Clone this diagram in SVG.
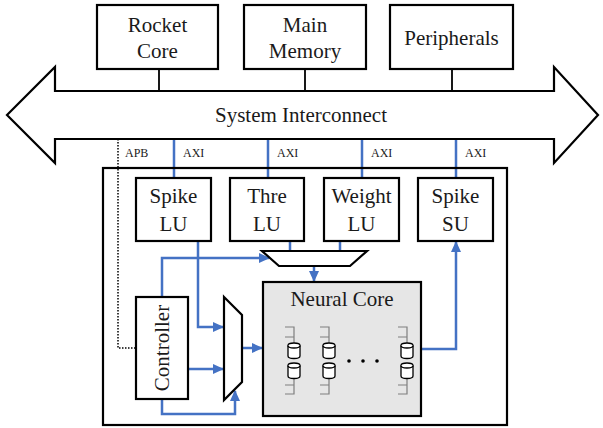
<svg xmlns="http://www.w3.org/2000/svg" width="603" height="428" viewBox="0 0 603 428">
<style>
.box{fill:#fff;stroke:#000;stroke-width:2.2}
.t{font-family:"Liberation Serif","Times New Roman",serif;font-size:21px;fill:#1a1a1a;text-anchor:middle}
.s{font-family:"Liberation Serif","Times New Roman",serif;font-size:12px;fill:#1a1a1a}
.blk{fill:none;stroke:#000;stroke-width:1.8}
.blue{fill:none;stroke:#4472c4;stroke-width:2.5}
.gray{fill:none;stroke:#7f7f7f;stroke-width:1.2}
.cyl{fill:#fff;stroke:#000;stroke-width:1.3}
</style>
<defs>
<marker id="ah" markerUnits="userSpaceOnUse" markerWidth="12" markerHeight="10" refX="10" refY="5" orient="auto">
<path d="M0,0 L11,5 L0,10 Z" fill="#4472c4"/>
</marker>
<g id="neuron">
<path class="gray" d="M-9,327 H0 V343 M-9,337 H0 M0,378 V394 H-9 M-9,385 H0"/>
<path class="cyl" d="M-6,345.5 V356 A6,2.5 0 0 0 6,356 V345.5 A6,2.5 0 0 0 -6,345.5 Z"/>
<path class="cyl" d="M-6,345.5 A6,2.5 0 0 0 6,345.5"/>
<path class="cyl" d="M-6,365.5 V376 A6,2.5 0 0 0 6,376 V365.5 A6,2.5 0 0 0 -6,365.5 Z"/>
<path class="cyl" d="M-6,365.5 A6,2.5 0 0 0 6,365.5"/>
</g>
</defs>

<g id="connectors">
<path class="blk" d="M159,69 V91 M305,69 V91 M452,69 V91"/>
<path d="M118,139 V348 H136" fill="none" stroke="#000" stroke-width="1.5" stroke-dasharray="1.5,1.5"/>
<path class="blue" d="M174,139 V178 M268,139 V178 M362,139 V178 M456,139 V178"/>
<path class="blue" d="M290,241 V251 M340,241 V251"/>
<path class="blue" d="M198,241 V327 H223" marker-end="url(#ah)"/>
<path class="blue" d="M162,297 V258 H269" marker-end="url(#ah)"/>
<path class="blue" d="M188,369 H223" marker-end="url(#ah)"/>
<path class="blue" d="M162,399 V414 H235 V391" marker-end="url(#ah)"/>
<path class="blue" d="M314,266 V281" marker-end="url(#ah)"/>
<path class="blue" d="M242,348 H262" marker-end="url(#ah)"/>
<path class="blue" d="M421,349 H456 V242" marker-end="url(#ah)"/>
</g>

<g id="rocket-core">
<rect class="box" x="97" y="5" width="121" height="64"/>
<text class="t" x="157.5" y="32">Rocket</text>
<text class="t" x="157.5" y="58">Core</text>
</g>
<g id="main-memory">
<rect class="box" x="244" y="5" width="122" height="64"/>
<text class="t" x="305" y="32">Main</text>
<text class="t" x="305" y="58">Memory</text>
</g>
<g id="peripherals">
<rect class="box" x="390" y="5" width="123" height="64"/>
<text class="t" x="451.5" y="45">Peripherals</text>
</g>

<g id="system-interconnect">
<polygon points="7,115 55,67 55,91 554,91 554,67 598,115 554,163 554,139 55,139 55,163" fill="#fff" stroke="#000" stroke-width="2.2" stroke-linejoin="miter"/>
<text class="t" x="301" y="122">System Interconnect</text>
</g>

<g id="bus-labels">
<text class="s" x="125" y="157">APB</text>
<text class="s" x="183" y="157">AXI</text>
<text class="s" x="277" y="157">AXI</text>
<text class="s" x="371" y="157">AXI</text>
<text class="s" x="465" y="157">AXI</text>
</g>

<g id="accelerator">
<rect x="103" y="168" width="404" height="257" fill="none" stroke="#000" stroke-width="2.2"/>
</g>

<g id="spike-lu">
<rect class="box" x="136" y="178" width="75" height="63"/>
<text class="t" x="173.5" y="203">Spike</text>
<text class="t" x="173.5" y="231">LU</text>
</g>
<g id="thre-lu">
<rect class="box" x="230" y="178" width="74" height="63"/>
<text class="t" x="267" y="203">Thre</text>
<text class="t" x="267" y="231">LU</text>
</g>
<g id="weight-lu">
<rect class="box" x="324" y="178" width="75" height="63"/>
<text class="t" x="361.5" y="203">Weight</text>
<text class="t" x="361.5" y="231">LU</text>
</g>
<g id="spike-su">
<rect class="box" x="418" y="178" width="75" height="63"/>
<text class="t" x="455.5" y="203">Spike</text>
<text class="t" x="455.5" y="231">SU</text>
</g>

<g id="mux-top">
<polygon class="box" points="262,251 367,251 350,266 279,266"/>
</g>
<g id="mux-left">
<polygon class="box" points="224,297 242,315 242,382 224,400"/>
</g>

<g id="controller">
<rect class="box" x="136" y="297" width="52" height="102"/>
<text class="t" transform="translate(169,348) rotate(-90)">Controller</text>
</g>

<g id="neural-core">
<rect x="263" y="282" width="158" height="134" fill="#e6e6e6" stroke="#000" stroke-width="2.2"/>
<text class="t" x="342" y="306">Neural Core</text>
<use href="#neuron" x="294" y="0"/>
<use href="#neuron" x="329" y="0"/>
<use href="#neuron" x="407" y="0"/>
<circle cx="349" cy="361" r="1.8" fill="#000"/>
<circle cx="363" cy="361" r="1.8" fill="#000"/>
<circle cx="377" cy="361" r="1.8" fill="#000"/>
</g>
</svg>
